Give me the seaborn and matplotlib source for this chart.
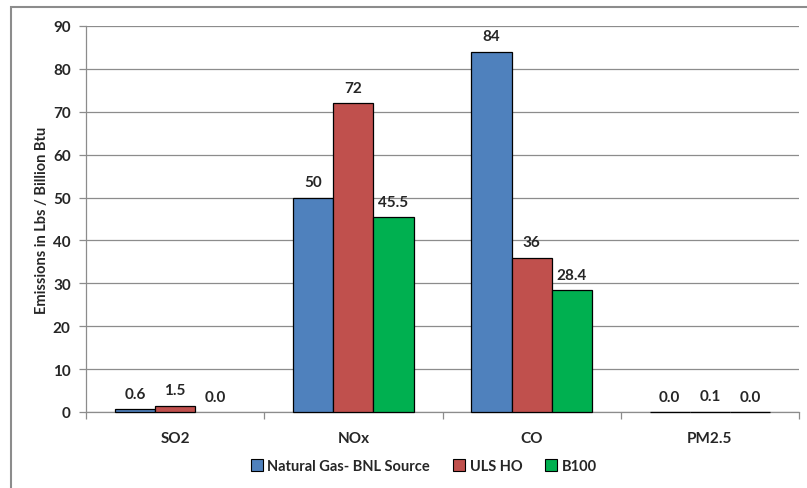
import pandas as pd
import seaborn as sns
import matplotlib.pyplot as plt
from matplotlib.patches import Rectangle

# ---- dados ----
categorias = ["SO2", "NOx", "CO", "PM2.5"]
series = ["Natural Gas- BNL Source", "ULS HO", "B100"]
gas_natural = [0.6, 50, 84, 0.02]
uls_ho = [1.5, 72, 36, 0.1]
b100 = [0.0, 45.5, 28.4, 0.02]
rotulos_gas = ["0.6", "50", "84", "0.0"]
rotulos_uls = ["1.5", "72", "36", "0.1"]
rotulos_b100 = ["0.0", "45.5", "28.4", "0.0"]
cores = ["#4F81BD", "#C0504D", "#00B050"]

df = pd.DataFrame({
    "Poluente": categorias * 3,
    "Serie": [series[0]] * 4 + [series[1]] * 4 + [series[2]] * 4,
    "Valor": gas_natural + uls_ho + b100,
})

sns.set_theme(style="white")
plt.rcParams['font.family'] = ['Lato', 'DejaVu Sans']
plt.rcParams['font.weight'] = 'bold'

fig = plt.figure(figsize=(8.07, 4.89), dpi=100)
ax = fig.add_axes([86 / 807, 1 - 413 / 489, 713 / 807, 386 / 489])

sns.barplot(data=df, x="Poluente", y="Valor", hue="Serie", order=categorias,
            hue_order=series, palette=cores, saturation=1, width=0.675,
            edgecolor="black", linewidth=0.9, ax=ax, legend=False)
for p in ax.patches:
    p.set_zorder(3)
    p.set_clip_on(False)
    # como no Excel, barra de valor zero não aparece
    if p.get_height() == 0:
        p.set_visible(False)

for cont, rot in zip(ax.containers, [rotulos_gas, rotulos_uls, rotulos_b100]):
    ax.bar_label(cont, labels=rot, padding=6, fontsize=11, fontweight='bold')

ax.set_xlim(-0.5, 3.5)
ax.set_ylim(0, 90)
ax.set_yticks(range(0, 91, 10))
ax.yaxis.grid(True, color="#8C8C8C", linewidth=0.9)
ax.set_axisbelow(True)
ax.set_xlabel("")
ax.set_ylabel("Emissions in Lbs / Billion Btu", fontsize=10.5, fontweight='bold', labelpad=3)

for s in ["top", "right"]:
    ax.spines[s].set_visible(False)
for s in ["left", "bottom"]:
    ax.spines[s].set_color("#8C8C8C")
    ax.spines[s].set_linewidth(0.9)

ax.tick_params(axis="y", left=True, length=5, width=0.9, color="#8C8C8C",
               labelsize=11, pad=6)
ax.tick_params(axis="x", which="major", length=0, labelsize=11, pad=14)
ax.set_xticks([-0.5, 0.5, 1.5, 2.5, 3.5], minor=True)
ax.tick_params(axis="x", which="minor", bottom=True, length=5, width=0.9, color="#8C8C8C")
for t in ax.get_xticklabels() + ax.get_yticklabels():
    t.set_fontweight('bold')

handles = [Rectangle((0, 0), 1, 1, facecolor=c, edgecolor="black", linewidth=0.8) for c in cores]
fig.legend(handles, series, loc="center", bbox_to_anchor=(424 / 807, 1 - 467 / 489),
           ncol=3, frameon=False, prop={'weight': 'bold', 'size': 10.5},
           handlelength=0.8, handleheight=0.8, handletextpad=0.3, columnspacing=1.6)

# moldura externa do gráfico
fig.patches.append(Rectangle((11 / 807, -0.1), 1.2, 1 - 8 / 489 + 0.1,
                             transform=fig.transFigure, fill=False,
                             edgecolor="#8C8C8C", linewidth=1.5))

fig.savefig("out.png", dpi=100)
